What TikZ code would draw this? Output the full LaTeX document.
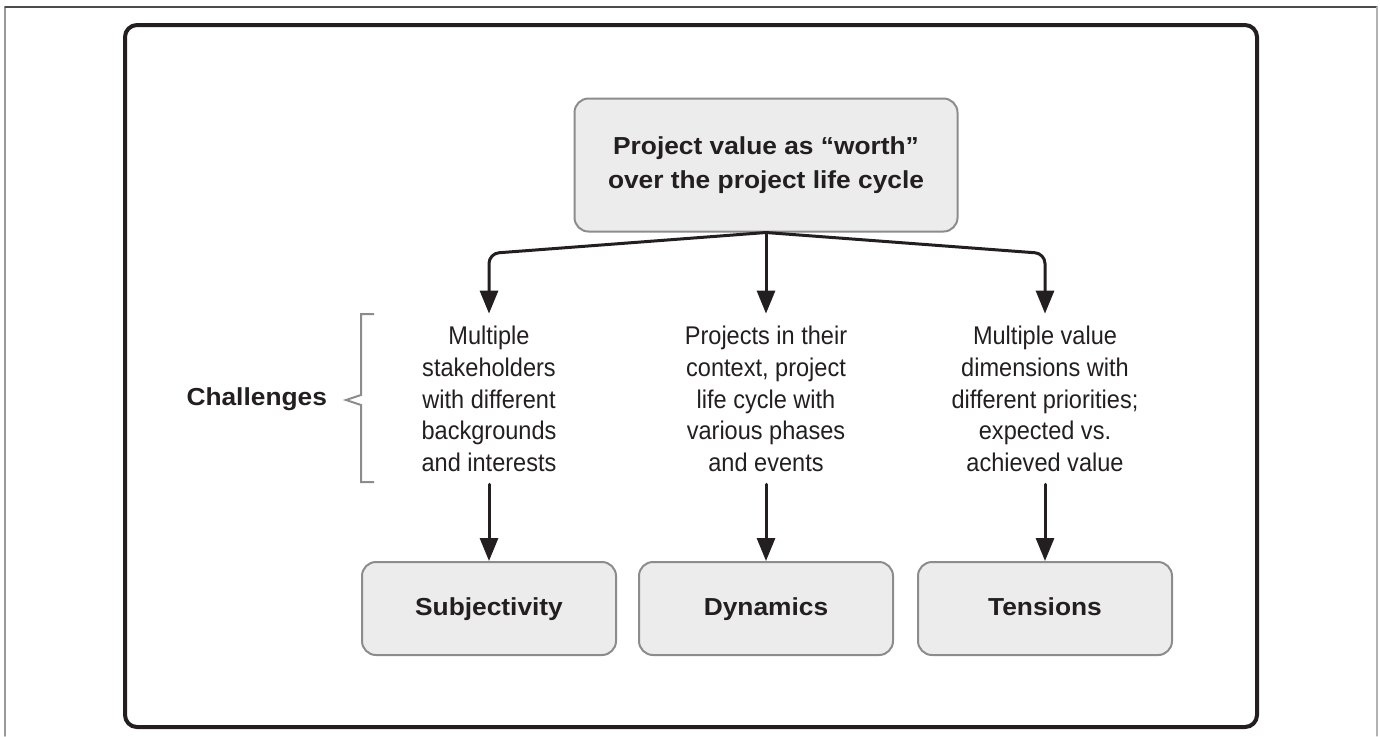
\documentclass[tikz,border=0pt]{standalone}
\usepackage{fontspec}
\setmainfont{Liberation Sans}
\newfontfamily\headfont[FakeStretch=1.07]{Liberation Sans}
\newfontfamily\bodyfont[FakeStretch=0.92]{Liberation Sans}
\usetikzlibrary{arrows.meta,positioning}
\definecolor{ink}{HTML}{231F20}
\definecolor{boxfill}{HTML}{EBECEB}
\definecolor{boxline}{HTML}{8C8C8C}
\begin{document}
\begin{tikzpicture}[x=0.5pt,y=-0.5pt,line join=round,line cap=round,
	>={Triangle[length=11.5pt,width=9pt]},
	head/.style={font=\headfont\bfseries\fontsize{12.3}{17}\selectfont,text=ink},
	box/.style={head,draw=boxline,line width=1pt,fill=boxfill,rounded corners=7pt,align=center},
	tag/.style={box,minimum width=127pt,minimum height=46.5pt,text height=9pt,text depth=2.5pt},
	body/.style={font=\bodyfont\fontsize{12.8}{15.9}\selectfont,text=ink,align=center,inner xsep=0pt,inner ysep=6pt},
	link/.style={->,draw=ink,line width=1.5pt,rounded corners=5pt}]
		\useasboundingbox (0,0) rectangle (1380,736);
		\draw[black!40,line width=0.8pt] (5,736)--(5,7);
		\draw[black!70,line width=0.6pt] (5,7)--(1377,7);
		\draw[black!30,line width=0.6pt] (1377,7)--(1377,736);
		\draw[ink,line width=2pt,rounded corners=6pt] (125,25) rectangle (1257,727);
		\node[box,minimum width=191.5pt,minimum height=66.5pt] (worth) at (766,165) {Project value as “worth”\\over the project life cycle};
		\node[body] (multi) at (489,399) {Multiple\\stakeholders\\with different\\backgrounds\\and interests};
		\node[body] (context) at (766,399) {Projects in their\\context, project\\life cycle with\\various phases\\and events};
		\node[body] (dims) at (1045,399) {Multiple value\\dimensions with\\different priorities;\\expected vs.\\achieved value};
		\node[tag] (subj) at (489,608.5) {Subjectivity};
		\node[tag] (dyn) at (766,608.5) {Dynamics};
		\node[tag] (tens) at (1045,608.5) {Tensions};
		\node[head,anchor=base east] (chal) at (334,405) {Challenges};
		\draw[boxline,line width=1pt,line join=miter,line cap=butt] (374,314)--(361,314)--(361,395)--(346,400)--(361,405)--(361,482)--(374,482);
		\draw[link] (worth.south)--([yshift=-10.5pt]multi.north |- worth.south)--(multi.north);
		\draw[link] (worth.south)--(context.north);
		\draw[link] (worth.south)--([yshift=-10.5pt]dims.north |- worth.south)--(dims.north);
		\draw[link] (multi.south)--(subj.north);
		\draw[link] (context.south)--(dyn.north);
		\draw[link] (dims.south)--(tens.north);
\end{tikzpicture}
\end{document}
